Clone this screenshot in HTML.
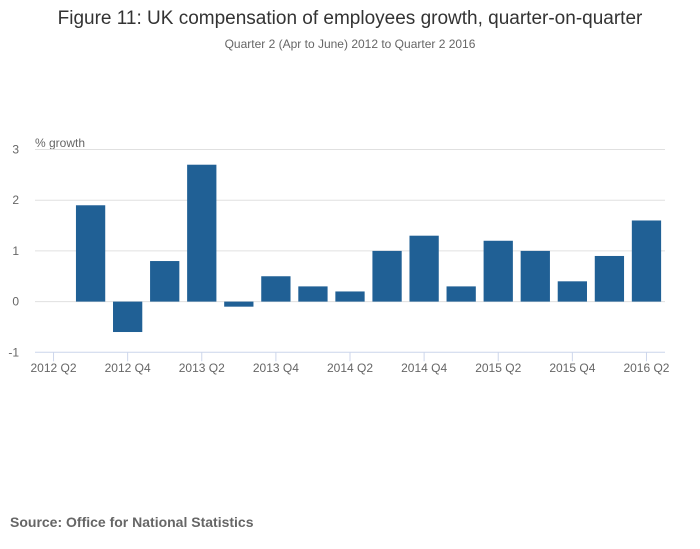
<!DOCTYPE html>
<html><head><meta charset="utf-8">
<style>
body{margin:0;background:#fff;font-family:"Liberation Sans",sans-serif;}
#wrap{position:relative;width:700px;height:549px;overflow:hidden;}
</style></head>
<body>
<div id="wrap">
<svg id="chart" width="700" height="549">
<text x="350" y="24" text-anchor="middle" font-size="19" fill="#333">Figure 11: UK compensation of employees growth, quarter-on-quarter</text>
<text x="350" y="48" text-anchor="middle" font-size="12" fill="#666">Quarter 2 (Apr to June) 2012 to Quarter 2 2016</text>
<text x="35" y="147" font-size="12" fill="#666">% growth</text>
<text x="10" y="527" font-size="14" font-weight="bold" fill="#666">Source: Office for National Statistics</text>
<g id="grid"></g><g id="bars"></g><g id="xaxis"></g>
</svg>
</div>
<script>
const categories=["2012 Q2","2012 Q3","2012 Q4","2013 Q1","2013 Q2","2013 Q3","2013 Q4","2014 Q1","2014 Q2","2014 Q3","2014 Q4","2015 Q1","2015 Q2","2015 Q3","2015 Q4","2016 Q1","2016 Q2"];
const values=[0,1.9,-0.6,0.8,2.7,-0.1,0.5,0.3,0.2,1.0,1.3,0.3,1.2,1.0,0.4,0.9,1.6];
const yTicks=[-1,0,1,2,3];
const xTickLabels=["2012 Q2","2012 Q4","2013 Q2","2013 Q4","2014 Q2","2014 Q4","2015 Q2","2015 Q4","2016 Q2"];
const NS="http://www.w3.org/2000/svg";
const x0=35,x1=665,yTop=149.5,yBot=352.3,yMin=-1,yMax=3;
const band=(x1-x0)/categories.length;
function y(v){return yBot-(v-yMin)/(yMax-yMin)*(yBot-yTop);}
function xc(i){return x0+band*(i+0.5);}
function mk(tag,attrs,parent){const e=document.createElementNS(NS,tag);for(const k in attrs)e.setAttribute(k,attrs[k]);parent.appendChild(e);return e;}
const grid=document.getElementById('grid'),bars=document.getElementById('bars'),xa=document.getElementById('xaxis');
yTicks.forEach(t=>{
  if(t!==yMin){const l=mk('line',{x1:x0,x2:x1,y1:y(t),y2:y(t),stroke:'#e0e0e0','stroke-width':1},grid);
  
  }
  const tx=mk('text',{x:19,y:y(t)+4,'text-anchor':'end','font-size':12,fill:'#666'},grid);
  tx.textContent=t;
  
  
});
values.forEach((v,i)=>{
  if(v===0)return;
  const w=band*0.79;
  const r=mk('rect',{x:xc(i)-w/2,y:Math.min(y(v),y(0)),width:w,height:Math.abs(y(v)-y(0)),fill:'#206095'},bars);
  
  
});
const ax=mk('line',{x1:x0,x2:x1,y1:yBot,y2:yBot,stroke:'#ccd6eb','stroke-width':1},xa);


xTickLabels.forEach(lab=>{
  const i=categories.indexOf(lab);
  const tk=mk('line',{x1:xc(i),x2:xc(i),y1:yBot,y2:yBot+9,stroke:'#ccd6eb','stroke-width':1},xa);
  
  
  const t=mk('text',{x:xc(i),y:372,'text-anchor':'middle','font-size':12,fill:'#666'},xa);
  t.textContent=lab;
  
  
});
</script>
</body></html>
